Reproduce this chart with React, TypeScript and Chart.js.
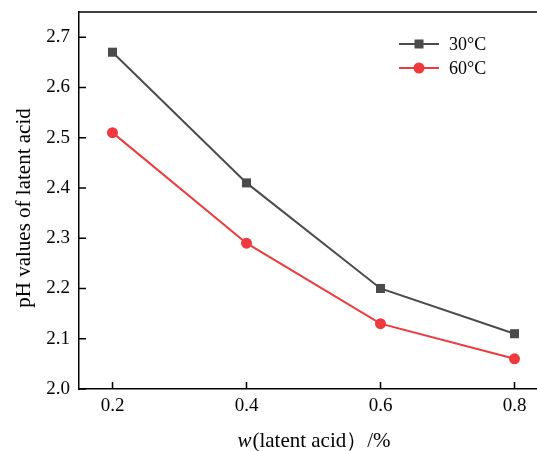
import React, { useEffect, useRef } from "react";
import { Chart, registerables } from "chart.js";

Chart.register(...registerables);

const xValues = [0.2, 0.4, 0.6, 0.8];
const ph30 = [2.67, 2.41, 2.2, 2.11];
const ph60 = [2.51, 2.29, 2.13, 2.06];
const xTicks = [0.2, 0.4, 0.6, 0.8];
const yTicks = [2.0, 2.1, 2.2, 2.3, 2.4, 2.5, 2.6, 2.7];
const seriesNames = ["30°C", "60°C"];
const seriesColors = ["#4b4b4b", "#ef3a3d"];
const yTitle = "pH values of latent acid";
const xTitleItalic = "w";
const xTitleRest = "(latent acid）/%";

const FONT = "'Liberation Serif', 'Times New Roman', serif";

const decorPlugin = {
  id: "decor",
  afterDraw(chart: any) {
    const ctx = chart.ctx;
    const a = chart.chartArea;
    const xs = chart.scales.x;
    const ys = chart.scales.y;
    ctx.save();
    ctx.strokeStyle = "#000";
    ctx.lineWidth = 1.5;
    // top border
    ctx.beginPath();
    ctx.moveTo(a.left, a.top);
    ctx.lineTo(a.right + 20, a.top);
    ctx.stroke();
    // inward ticks
    ctx.beginPath();
    yTicks.forEach((v) => {
      const y = ys.getPixelForValue(v);
      ctx.moveTo(a.left, y);
      ctx.lineTo(a.left + 7, y);
    });
    xTicks.forEach((v) => {
      const x = xs.getPixelForValue(v);
      ctx.moveTo(x, a.bottom);
      ctx.lineTo(x, a.bottom - 7);
    });
    ctx.stroke();

    // y title
    ctx.fillStyle = "#000";
    ctx.font = `21px ${FONT}`;
    ctx.textAlign = "center";
    ctx.textBaseline = "middle";
    ctx.save();
    ctx.translate(24, 208);
    ctx.rotate(-Math.PI / 2);
    ctx.fillText(yTitle, 0, 0);
    ctx.restore();

    // x title
    ctx.textAlign = "left";
    ctx.font = `italic 21px ${FONT}`;
    const w1 = ctx.measureText(xTitleItalic).width;
    ctx.font = `21px ${FONT}`;
    const w2 = ctx.measureText(xTitleRest).width;
    const cx = (a.left + a.right) / 2;
    const sx = cx - (w1 + w2) / 2;
    ctx.font = `italic 21px ${FONT}`;
    ctx.fillText(xTitleItalic, sx, 441);
    ctx.font = `21px ${FONT}`;
    ctx.fillText(xTitleRest, sx + w1 + 1, 441);

    // legend
    const lx0 = 399, lx1 = 439, tx = 449;
    const lys = [44, 68];
    ctx.font = `18px ${FONT}`;
    seriesNames.forEach((name, i) => {
      const y = lys[i];
      ctx.strokeStyle = seriesColors[i];
      ctx.lineWidth = 2;
      ctx.beginPath();
      ctx.moveTo(lx0, y);
      ctx.lineTo(lx1, y);
      ctx.stroke();
      ctx.fillStyle = seriesColors[i];
      const mx = (lx0 + lx1) / 2;
      if (i === 0) {
        ctx.fillRect(mx - 4.5, y - 4.5, 9, 9);
      } else {
        ctx.beginPath();
        ctx.arc(mx, y, 5.5, 0, Math.PI * 2);
        ctx.fill();
      }
      ctx.fillStyle = "#000";
      ctx.textBaseline = "middle";
      ctx.fillText(name, tx, y + 1);
    });
    ctx.restore();
  },
};

export default function App() {
  const ref = useRef<HTMLCanvasElement | null>(null);
  useEffect(() => {
    if (!ref.current) return;
    const chart = new Chart(ref.current, {
      type: "line",
      data: {
        datasets: [
          {
            label: seriesNames[0],
            data: xValues.map((x, i) => ({ x, y: ph30[i] })),
            borderColor: seriesColors[0],
            backgroundColor: seriesColors[0],
            borderWidth: 2,
            pointStyle: "rect",
            pointRadius: 6.4,
            pointBorderWidth: 0,
          },
          {
            label: seriesNames[1],
            data: xValues.map((x, i) => ({ x, y: ph60[i] })),
            borderColor: seriesColors[1],
            backgroundColor: seriesColors[1],
            borderWidth: 2,
            pointStyle: "circle",
            pointRadius: 5.5,
            pointBorderWidth: 0,
          },
        ],
      },
      options: {
        responsive: false,
        animation: false,
        devicePixelRatio: 1,
        layout: { padding: { top: 12, right: 12, left: 0, bottom: 0 } },
        plugins: { legend: { display: false }, tooltip: { enabled: false } },
        scales: {
          x: {
            type: "linear",
            min: 0.15,
            max: 0.85,
            afterBuildTicks: (s: any) => {
              s.ticks = xTicks.map((v) => ({ value: v }));
            },
            afterFit: (s: any) => {
              s.height = 62;
              s.paddingLeft = 0;
              s.paddingRight = 0;
            },
            grid: { display: false, drawTicks: false },
            border: { display: true, color: "#000", width: 1.5 },
            ticks: {
              color: "#000",
              font: { family: FONT, size: 19 },
              padding: 6,
              maxRotation: 0,
              autoSkip: false,
              callback: (v: any) => Number(v).toFixed(1),
            },
          },
          y: {
            type: "linear",
            min: 2.0,
            max: 2.75,
            afterBuildTicks: (s: any) => {
              s.ticks = yTicks.map((v) => ({ value: v }));
            },
            afterFit: (s: any) => {
              s.width = 79;
              s.paddingTop = 0;
              s.paddingBottom = 0;
            },
            grid: { display: false, drawTicks: false },
            border: { display: true, color: "#000", width: 1.5 },
            ticks: {
              color: "#000",
              font: { family: FONT, size: 19 },
              padding: 9,
              autoSkip: false,
              callback: (v: any) => Number(v).toFixed(1),
            },
          },
        },
      },
      plugins: [decorPlugin],
    } as any);
    return () => chart.destroy();
  }, []);
  return (
    <div
      style={{
        position: "fixed",
        left: 0,
        top: 0,
        width: 537,
        height: 451,
        overflow: "hidden",
        background: "#fff",
      }}
    >
      <canvas ref={ref} width={560} height={451} style={{ width: 560, height: 451, display: "block" }} />
    </div>
  );
}
